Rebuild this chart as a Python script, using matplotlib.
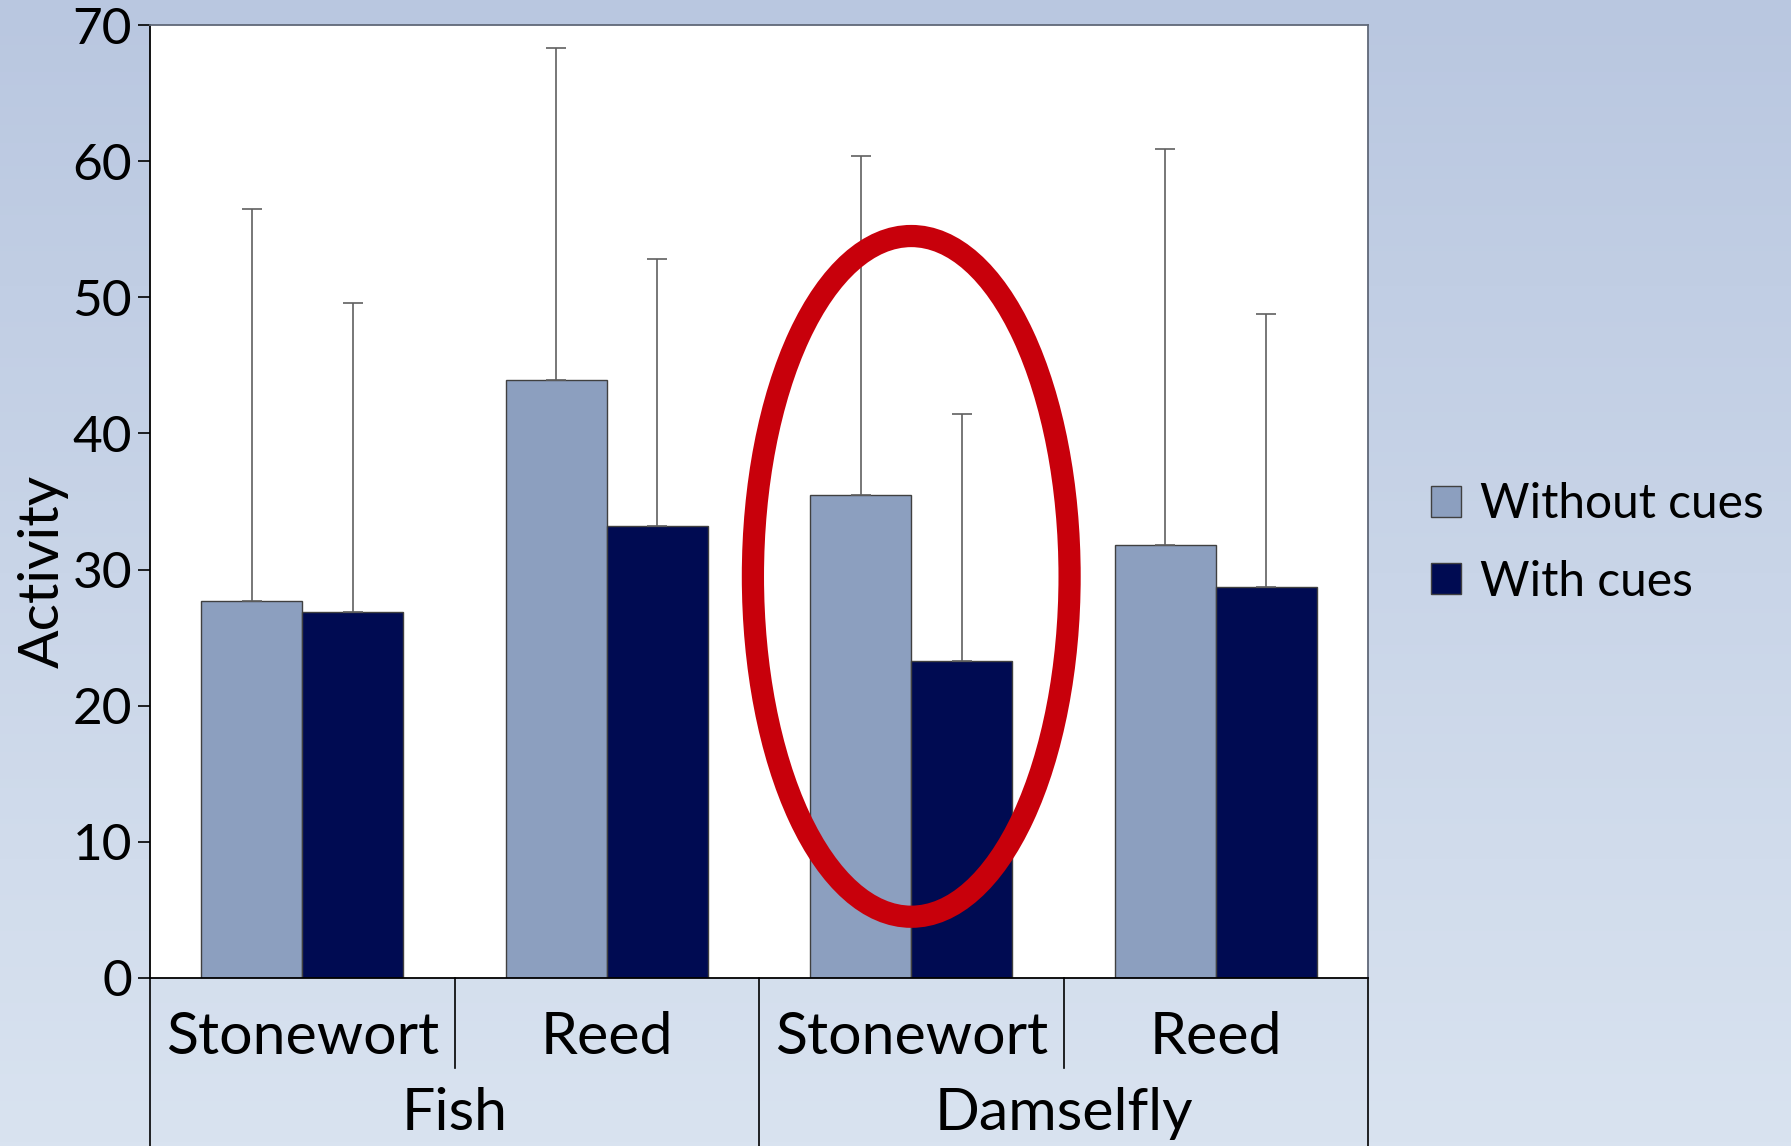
import numpy as np
import matplotlib
matplotlib.use("Agg")
import matplotlib.pyplot as plt
from matplotlib.patches import Ellipse
from matplotlib.lines import Line2D

# ---- data ----
predators = ["Fish", "Damselfly"]
plants = ["Stonewort", "Reed", "Stonewort", "Reed"]
series_names = ["Without cues", "With cues"]
without_cues = [27.7, 43.9, 35.5, 31.8]
with_cues = [26.9, 33.2, 23.3, 28.7]
without_err = [28.8, 24.4, 24.9, 29.1]
with_err = [22.7, 19.6, 18.1, 20.1]
yticks = [0, 10, 20, 30, 40, 50, 60, 70]

col_light = "#8C9FBF"
col_dark = "#000B52"

plt.rcParams['font.family'] = ['Lato', 'DejaVu Sans']
FS_TICK = 37
FS_CAT = 42.5
FS_LEG = 34.5
FS_YLAB = 41

W, H = 1791, 1146
fig = plt.figure(figsize=(W / 100, H / 100), dpi=100)

# gradient background
bg = fig.add_axes([0, 0, 1, 1], zorder=-10)
grad = np.linspace(0, 1, 256).reshape(-1, 1)
top = np.array([0xB9, 0xC7, 0xE0]) / 255
bot = np.array([0xD9, 0xE3, 0xF0]) / 255
img = top[None, None, :] * (1 - grad[:, :, None]) + bot[None, None, :] * grad[:, :, None]
bg.imshow(img, aspect='auto', extent=[0, 1, 0, 1], origin='upper')
bg.set_axis_off()

L, R, B, T = 150 / W, 1368 / W, 1 - 978 / H, 1 - 25 / H
ax = fig.add_axes([L, B, R - L, T - B])
ax.set_facecolor("white")

x = np.arange(len(plants))
bw = 0.332
ax.bar(x - bw / 2, without_cues, bw, color=col_light, edgecolor="#404040", linewidth=1.0,
       label=series_names[0], zorder=2)
ax.bar(x + bw / 2, with_cues, bw, color=col_dark, edgecolor="#404040", linewidth=1.0,
       label=series_names[1], zorder=2)
ax.errorbar(x - bw / 2, without_cues, yerr=[np.zeros(4), without_err], fmt='none',
            ecolor="#606060", elinewidth=1.2, capsize=7, capthick=1.2, zorder=3)
ax.errorbar(x + bw / 2, with_cues, yerr=[np.zeros(4), with_err], fmt='none',
            ecolor="#606060", elinewidth=1.2, capsize=7, capthick=1.2, zorder=3)

ax.set_xlim(-0.5, 3.5)
ax.set_ylim(0, 70)
ax.set_yticks(yticks)
ax.set_yticklabels([str(v) for v in yticks], fontsize=FS_TICK)
ax.tick_params(axis='y', direction='out', length=9, width=1.2, pad=4)
ax.set_xticks([])
for s in ['left', 'bottom']:
    ax.spines[s].set_color('black')
    ax.spines[s].set_linewidth(1.3)
for s in ['top', 'right']:
    ax.spines[s].set_color('#606878')
    ax.spines[s].set_linewidth(1.3)

ax.set_ylabel("Activity", fontsize=FS_YLAB)
ax.yaxis.set_label_coords(-0.067, 0.427)

# red ellipse
ell = Ellipse((2.0, 29.5), width=1.04, height=50.0, fill=False, edgecolor="#C8000B",
              linewidth=16, zorder=4)
ax.add_patch(ell)

# hierarchical category axis
trans = ax.get_xaxis_transform()
ax_h = (978 - 25)
for i, p in enumerate(plants):
    ax.text(i, -(1037 - 978) / ax_h, p, transform=trans, ha='center', va='center',
            fontsize=FS_CAT, clip_on=False)
for g, name in enumerate(predators):
    ax.text(g * 2 + 0.5, -(1114 - 978) / ax_h, name, transform=trans, ha='center',
            va='center', fontsize=FS_CAT, clip_on=False)
short_end = -(1068 - 978) / ax_h
long_end = -(1146 - 978) / ax_h
for xv in [-0.5, 1.5, 3.5]:
    ax.add_line(Line2D([xv, xv], [0, long_end], transform=trans, color='black',
                       linewidth=1.2, clip_on=False))
for xv in [0.5, 2.5]:
    ax.add_line(Line2D([xv, xv], [0, short_end], transform=trans, color='black',
                       linewidth=1.2, clip_on=False))

leg = fig.legend(loc='center left', bbox_to_anchor=(1388 / W, 1 - 543 / H), frameon=False,
                 fontsize=FS_LEG, handlelength=0.62, handleheight=0.62, handletextpad=0.4,
                 labelspacing=0.7)

fig.savefig("out.png", dpi=100)
